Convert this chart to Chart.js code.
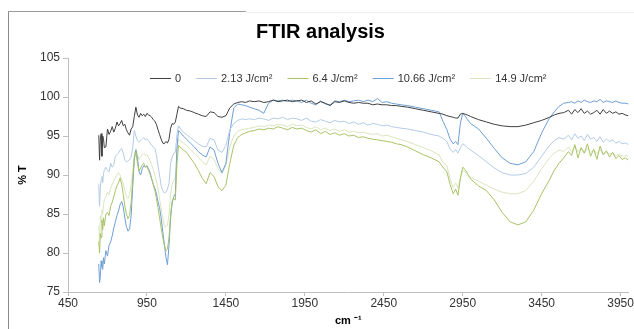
<!DOCTYPE html>
<html>
<head>
<meta charset="utf-8">
<title>FTIR analysis</title>
<script src="https://cdn.jsdelivr.net/npm/chart.js@4"></script>
<style>
  html, body { margin: 0; padding: 0; background: #fff; }
  #wrap { position: relative; width: 634px; height: 329px; overflow: hidden; }
  #grafico { position: absolute; left: 0; top: 0; }
  .borda { position: absolute; }
  #borda-esq { left: 8px; top: 11px; height: 318px; border-left: 1px solid #8c8c8c; }
  #borda-topo { left: 8px; top: 11px; width: 238px; border-top: 1px solid #9a9a9a; }
  #borda-topo2 { left: 246px; top: 12px; width: 388px; border-top: 1px solid #eeeeee; }
</style>
</head>
<body>
<div id="wrap">
  <canvas id="grafico" width="634" height="329"></canvas>
  <div class="borda" id="borda-esq"></div>
  <div class="borda" id="borda-topo"></div>
  <div class="borda" id="borda-topo2"></div>
</div>
<script>
// numero de onda (cm-1)
const numeroOnda = [
  645, 650, 655, 660, 665, 670, 675, 680,
  690, 700, 710, 720, 730, 740, 750, 760, 770, 780,
  790, 800, 810, 820, 830, 840, 850, 860, 870, 880,
  890, 900, 910, 920, 930, 940, 950, 960, 970, 980,
  990, 1000, 1010, 1020, 1030, 1040, 1050, 1060, 1070, 1080,
  1090, 1100, 1110, 1120, 1130, 1140, 1150, 1160,
  1180, 1200,
  1225, 1250, 1275, 1300, 1325, 1350, 1375, 1400, 1425, 1450, 1475, 1500, 1525, 1550, 1575, 1600,
  1630, 1660, 1690, 1720, 1750, 1780, 1810, 1840, 1870, 1900, 1930, 1960, 1990, 2020, 2050, 2080,
  2110, 2140, 2170, 2200, 2230, 2260, 2290, 2320, 2350, 2380, 2410, 2440, 2470, 2500, 2530, 2560,
  2600, 2650, 2700, 2750, 2800,
  2825, 2850, 2870, 2890, 2905, 2920, 2935, 2950, 2965, 2980,
  3000, 3050, 3100, 3150, 3200, 3250, 3300, 3350, 3400, 3450, 3500,
  3530, 3560, 3590, 3620,
  3640, 3660, 3680, 3700, 3720, 3740, 3760, 3780, 3800, 3820, 3840, 3860, 3880, 3900, 3920, 3940, 3960, 3980, 4000
];

// % T  -  0
const serie0 = [
  95.1, 91.9, 94.6, 95.3, 92.4, 95.0, 94.6, 93.5,
  93.6, 95.9, 95.2, 95.6, 96.2, 95.5, 96.0, 96.8, 96.3, 96.6,
  97.0, 96.3, 96.5, 95.8, 95.4, 95.1, 95.9, 96.2, 97.5, 98.7,
  97.7, 97.4, 97.9, 97.6, 97.8, 97.5, 97.9, 97.7, 97.6, 97.4,
  97.1, 96.9, 96.5, 95.8, 95.2, 94.6, 94.1, 94.0, 94.3, 94.1,
  94.6, 96.0, 96.6, 96.5, 96.8, 97.8, 98.8, 98.6,
  98.5, 98.3,
  98.2, 98.0, 97.8, 97.6, 97.5, 98.1, 98.0, 97.5, 97.4, 97.6, 98.6, 99.1, 99.3, 99.4, 99.3, 99.5,
  99.4, 99.5, 99.3, 99.4, 99.6, 99.4, 99.5, 99.6, 99.4, 99.5, 99.6, 99.3, 99.5, 99.1, 99.4, 99.2,
  98.9, 99.4, 99.3, 99.5, 99.3, 99.2, 99.3, 99.2, 99.2, 99.0, 99.1, 99.0, 99.0, 98.9, 98.9, 98.8,
  98.7, 98.5, 98.3, 98.1, 97.9,
  97.8, 97.6, 97.5, 97.4, 97.3, 97.3, 97.8, 97.9, 97.8, 97.7,
  97.5, 97.1, 96.8, 96.5, 96.3, 96.2, 96.2, 96.4, 96.7, 97.0, 97.4,
  97.7, 97.9, 98.0, 98.3,
  97.8, 98.4, 98.0, 98.5, 97.9, 98.2, 97.8, 98.0, 98.3, 97.8, 98.4, 97.9, 98.2, 97.9, 98.1, 97.8, 97.9, 97.7, 97.6
];

// % T  -  2.13 J/cm²
const serie213 = [
  88.8, 86.0, 88.5, 89.4, 89.8, 89.0, 90.2, 90.6,
  91.0, 90.6, 90.4, 91.5, 91.0, 91.3, 92.4, 92.6, 92.8, 93.2,
  93.4, 92.8, 91.9, 91.7, 91.8, 92.0, 92.3, 93.5, 95.7, 95.0,
  94.4, 94.2, 94.4, 94.6, 94.8, 94.5, 94.6, 94.4, 94.1, 93.8,
  93.6, 93.4, 92.6, 91.2, 90.0, 88.6, 88.0, 87.7, 87.8, 88.2,
  88.9, 91.5, 92.3, 92.8, 92.9, 95.2, 96.3, 96.0,
  95.5, 95.2,
  94.8, 94.4, 94.0, 93.7, 93.6, 94.7, 94.5, 93.2, 92.9, 93.8, 95.8, 96.6, 97.0, 97.2, 97.1, 97.2,
  97.1, 97.3, 97.2, 97.0, 97.3, 97.2, 97.4, 97.1, 97.3, 97.2, 97.0, 97.3, 96.9, 96.8, 97.1, 96.9,
  96.7, 97.0, 96.8, 96.9, 96.6, 96.8, 96.5, 96.7, 96.4, 96.6, 96.5, 96.3, 96.4, 96.2, 96.1, 96.0,
  95.9, 95.7, 95.5, 95.2, 95.0,
  94.7, 94.3, 93.3, 92.9, 93.3, 92.8, 93.5, 94.0, 93.8, 93.5,
  93.2, 92.5, 91.7, 90.9, 90.3, 90.0, 90.0, 90.2, 91.0, 92.4, 93.8,
  94.4, 94.8, 94.6, 95.1,
  94.5, 95.3, 94.7, 95.0, 94.4, 95.2, 94.6, 94.8, 94.3, 94.9, 94.2, 94.6, 94.3, 94.5, 94.1, 94.3, 94.0, 94.1, 93.9
];

// % T  -  6.4 J/cm²
const serie64 = [
  81.5, 80.0, 82.5, 82.0, 84.2, 83.0, 84.5, 83.5,
  85.0, 85.2, 84.8, 86.0, 86.5, 87.2, 88.0, 88.6, 89.0, 89.6,
  88.8, 87.5, 86.0, 85.0, 84.4, 84.8, 86.5, 89.5, 92.2, 93.0,
  91.5, 90.5, 90.9, 91.3, 91.5, 91.0, 91.1, 90.6, 90.1, 89.5,
  88.8, 88.0, 87.0, 85.8, 84.5, 83.2, 82.0, 81.0, 80.3, 80.5,
  82.0, 85.0, 86.6, 87.0, 86.8, 91.5, 93.8, 93.6,
  93.2, 92.9,
  92.2, 91.5, 90.6, 89.6, 88.9, 90.3, 89.8, 88.5, 88.0, 88.7, 91.5, 93.8, 94.8, 95.2, 95.4, 95.6,
  95.7, 95.9, 95.8, 96.0, 95.9, 96.2, 96.0, 95.8, 96.1, 95.9, 96.0, 95.7, 95.5, 95.8, 95.3, 95.6,
  95.2, 95.4, 95.1, 95.3, 95.0, 95.1, 94.8, 94.9, 94.7, 94.6, 94.5, 94.4, 94.3, 94.2, 94.0, 93.9,
  93.6, 93.1, 92.6, 92.2, 91.7,
  91.0, 90.4, 88.8, 87.6, 88.2, 87.4, 89.5, 91.0, 90.7, 90.2,
  89.5, 88.6, 88.0, 86.8, 85.2, 84.0, 83.6, 84.0, 85.5, 87.6, 89.4,
  90.6, 91.5, 92.2, 93.0,
  92.5, 93.9, 92.2, 93.5, 92.8, 94.0, 92.4, 93.3, 92.0, 93.7, 92.6, 93.1, 92.3, 92.9, 92.1, 92.5, 92.0, 92.2, 91.9
];

// % T  -  10.66 J/cm²
const serie1066 = [
  78.6, 76.2, 77.0, 79.0, 78.2, 77.9, 79.4, 78.6,
  80.3, 79.6, 81.0, 81.4, 82.2, 83.2, 84.0, 84.8, 85.4, 86.2,
  86.6, 85.9, 84.5, 83.4, 82.8, 83.1, 84.8, 88.5, 92.0, 93.2,
  92.2, 90.4, 90.0, 90.8, 91.2, 91.0, 91.2, 90.8, 90.3, 89.5,
  88.8, 88.3, 87.6, 86.6, 85.8, 84.5, 82.8, 81.2, 79.5, 78.5,
  81.0, 84.5, 86.5, 87.2, 87.6, 93.5, 95.7, 95.5,
  95.0, 94.6,
  94.1, 93.6, 93.0, 92.6, 92.3, 93.6, 93.2, 91.5, 90.3, 91.5, 95.5, 98.6, 99.1, 99.0, 98.9, 98.7,
  98.5, 98.3, 97.9, 99.2, 99.6, 99.5, 99.6, 99.4, 99.6, 99.5, 99.3, 99.6, 99.2, 99.0, 99.5, 99.1,
  99.0, 99.5, 99.4, 99.6, 99.4, 99.5, 99.6, 99.4, 99.6, 99.4, 99.8, 99.3, 99.4, 99.2, 99.1, 99.0,
  98.9, 98.7, 98.5, 98.3, 98.1,
  96.9, 95.8, 94.6, 94.0, 94.3, 93.9, 96.6, 97.9, 97.6, 97.1,
  96.6, 95.9, 94.7, 93.4, 92.2, 91.5, 91.3, 91.7, 93.0, 95.4, 97.3,
  98.1, 98.8, 99.2, 99.3,
  99.4, 99.2, 99.5, 99.3, 99.6, 99.4, 99.3, 99.5, 99.4, 99.7, 99.3, 99.5, 99.4, 99.3, 99.5, 99.3, 99.2, 99.2, 99.1
];

// % T  -  14.9 J/cm²
const serie149 = [
  83.5, 81.5, 84.8, 84.0, 85.5, 85.0, 86.2, 86.8,
  87.2, 87.8, 87.5, 88.3, 88.8, 89.3, 89.6, 90.0, 90.3, 90.0,
  89.4, 88.9, 88.0, 87.2, 87.0, 87.5, 88.8, 90.5, 92.6, 93.4,
  92.6, 92.0, 92.3, 92.6, 92.8, 92.5, 92.6, 92.3, 91.8, 91.3,
  90.7, 90.0, 89.2, 88.3, 87.0, 85.7, 84.5, 83.5, 83.3, 83.6,
  85.0, 87.5, 88.8, 89.3, 89.6, 93.0, 94.6, 94.4,
  94.1, 93.8,
  93.3, 92.8, 92.3, 91.7, 91.3, 92.4, 92.0, 90.8, 90.2, 91.2, 93.6, 95.0, 95.6, 95.8, 95.9, 96.0,
  96.1, 96.3, 96.2, 96.4, 96.3, 96.5, 96.4, 96.2, 96.5, 96.3, 96.4, 96.1, 95.9, 96.2, 95.8, 96.0,
  95.7, 95.9, 95.6, 95.8, 95.5, 95.6, 95.4, 95.5, 95.3, 95.2, 95.3, 95.0, 95.1, 94.9, 94.7, 94.5,
  94.3, 93.9, 93.5, 93.1, 92.6,
  91.6, 91.2, 89.5, 88.4, 89.0, 88.3, 89.6, 90.6, 90.4, 90.0,
  89.7, 89.2, 88.7, 88.2, 87.8, 87.6, 87.6, 88.0, 89.2, 90.8, 92.2,
  92.8, 93.2, 93.0, 93.6,
  92.9, 93.7, 93.0, 93.5, 92.8, 93.4, 92.9, 93.2, 92.7, 93.3, 92.6, 92.9, 92.7, 92.8, 92.5, 92.7, 92.4, 92.5, 92.3
];

const legendas = ['0', '2.13 J/cm²', '6.4 J/cm²', '10.66 J/cm²', '14.9 J/cm²'];
const cores = ['#404040', '#b4cbe6', '#a9c266', '#6f9fd6', '#d9e5bf'];
const ticksX = [450, 950, 1450, 1950, 2450, 2950, 3450, 3950];

const fonte = "'Liberation Sans', Arial, sans-serif";
Chart.defaults.font.family = fonte;

const series = [serie0, serie213, serie64, serie1066, serie149];

// legenda numa linha so, dentro da area do grafico
const legendaLinha = {
    id: 'legendaLinha',
    afterDraw(chart) {
        const ctx = chart.ctx;
        const area = chart.chartArea;
        const comp = 21, gapTexto = 4, gapItem = 15;
        ctx.save();
        ctx.font = '11px ' + fonte;
        const larguras = chart.data.datasets.map(d => comp + gapTexto + ctx.measureText(d.label).width);
        const total = larguras.reduce((a, b) => a + b, 0) + gapItem * (larguras.length - 1);
        let x = (area.left + area.right) / 2 - total / 2;
        const y = area.top + 20.5;
        chart.data.datasets.forEach((d, i) => {
            ctx.strokeStyle = d.borderColor;
            ctx.lineWidth = 1;
            ctx.beginPath();
            ctx.moveTo(x, y);
            ctx.lineTo(x + comp, y);
            ctx.stroke();
            ctx.fillStyle = '#333';
            ctx.textBaseline = 'middle';
            ctx.textAlign = 'left';
            ctx.fillText(d.label, x + comp + gapTexto, y);
            x += larguras[i] + gapItem;
        });
        ctx.restore();
    }
};

new Chart(document.getElementById('grafico'), {
    type: 'line',
    data: {
        datasets: series.map((s, i) => ({
            label: legendas[i],
            data: numeroOnda.map((x, j) => ({ x: x, y: s[j] })),
            borderColor: cores[i],
            backgroundColor: cores[i],
            borderWidth: 1,
            pointRadius: 0,
            tension: 0,
            fill: false
        }))
    },
    options: {
        responsive: false,
        animation: false,
        devicePixelRatio: 1,
        layout: { padding: { left: 12, right: 5, top: 0, bottom: 0 } },
        plugins: {
            title: {
                display: true,
                text: 'FTIR analysis',
                color: '#000',
                font: { size: 20, weight: 'bold' },
                padding: { top: 20, bottom: 14 }
            },
            legend: { display: false },
            tooltip: { enabled: false }
        },
        scales: {
            x: {
                type: 'linear',
                min: 450,
                max: 4000,
                afterBuildTicks: (scale) => { scale.ticks = ticksX.map(v => ({ value: v })); },
                afterFit: (scale) => { scale.height = 37; },
                grid: { drawOnChartArea: false, color: '#bfbfbf', tickLength: 4 },
                border: { color: '#bfbfbf' },
                ticks: { color: '#333', font: { size: 12 }, padding: 0, autoSkip: false, maxRotation: 0, callback: (v) => String(v) },
                title: { display: true, text: 'cm ⁻¹', color: '#000', font: { size: 11, weight: 'bold' }, padding: { top: 0, bottom: 1 } }
            },
            y: {
                min: 75,
                max: 105,
                afterFit: (scale) => { scale.width = 56; },
                grid: { drawOnChartArea: false, color: '#bfbfbf', tickLength: 5 },
                border: { color: '#bfbfbf' },
                ticks: { stepSize: 5, color: '#333', font: { size: 12 }, padding: 3 },
                title: { display: true, text: '% T', color: '#000', font: { size: 11, weight: 'bold' }, padding: { top: 4, bottom: 0 } }
            }
        }
    },
    plugins: [legendaLinha]
});
</script>
</body>
</html>
